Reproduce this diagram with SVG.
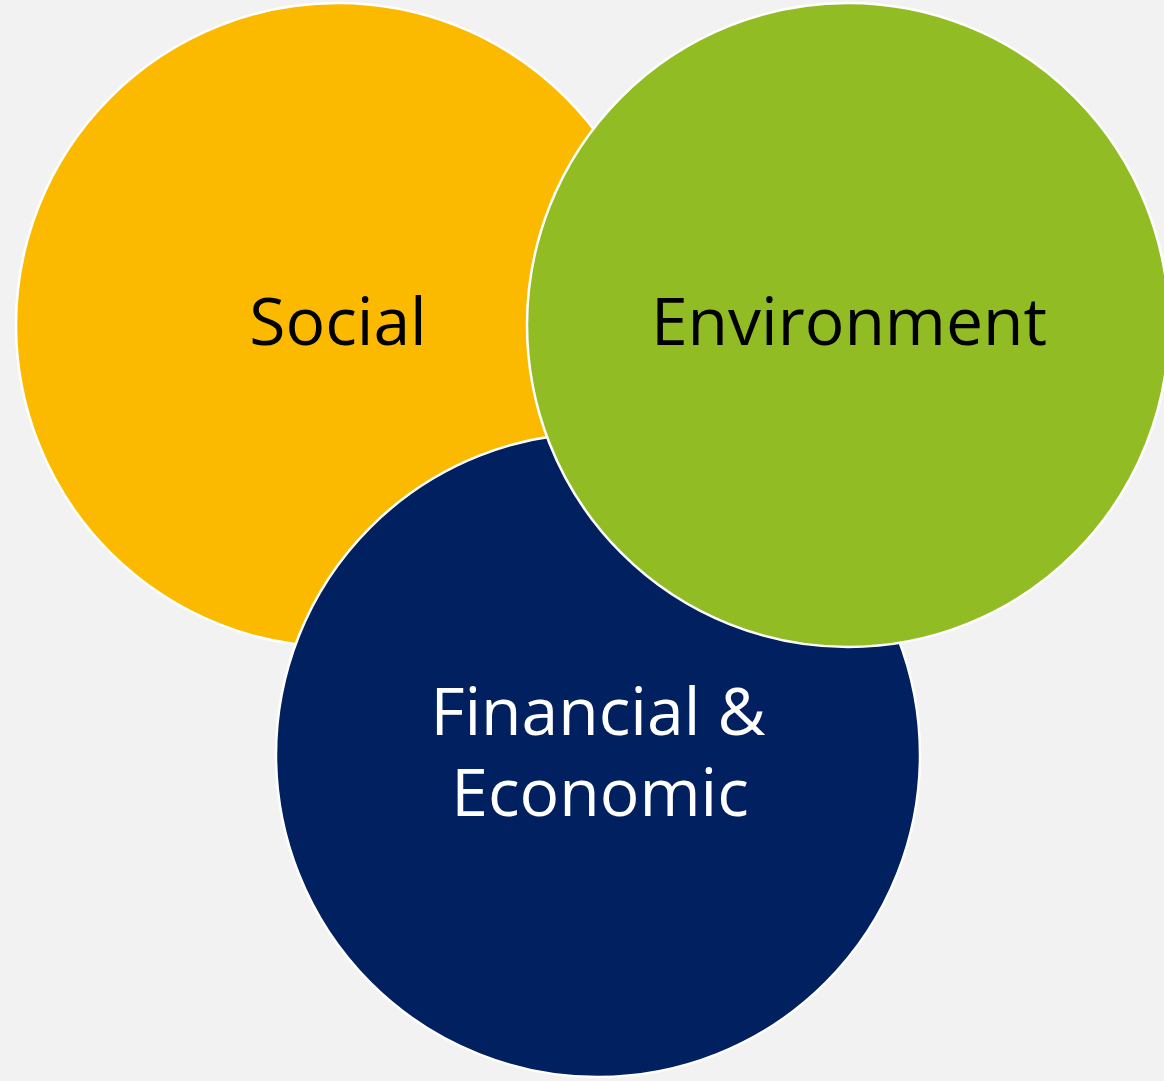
<svg xmlns="http://www.w3.org/2000/svg" width="1164" height="1081" viewBox="0 0 1164 1081">
<style>
.c{stroke:#ffffff;stroke-width:2.5}
.t{font-family:"Open Sans","Noto Sans","DejaVu Sans",sans-serif;font-size:66px;text-anchor:middle}
</style>
<rect width="1164" height="1081" fill="#f2f2f2"/>
<g id="social"><ellipse class="c" cx="338" cy="325" rx="322" ry="322" fill="#fbba00"/><text class="t" x="338" y="345" fill="#000">Social</text></g>
<g id="financial"><ellipse class="c" cx="598" cy="755" rx="322" ry="322" fill="#00205f"/><text class="t" x="598" y="735" fill="#fff">Financial &amp;</text><text class="t" x="600" y="816" fill="#fff">Economic</text></g>
<g id="environment"><ellipse class="c" cx="848" cy="325" rx="321" ry="322" fill="#92bc24"/><text class="t" x="849" y="345" fill="#000">Environment</text></g>
<g id="connectors"></g>
</svg>
